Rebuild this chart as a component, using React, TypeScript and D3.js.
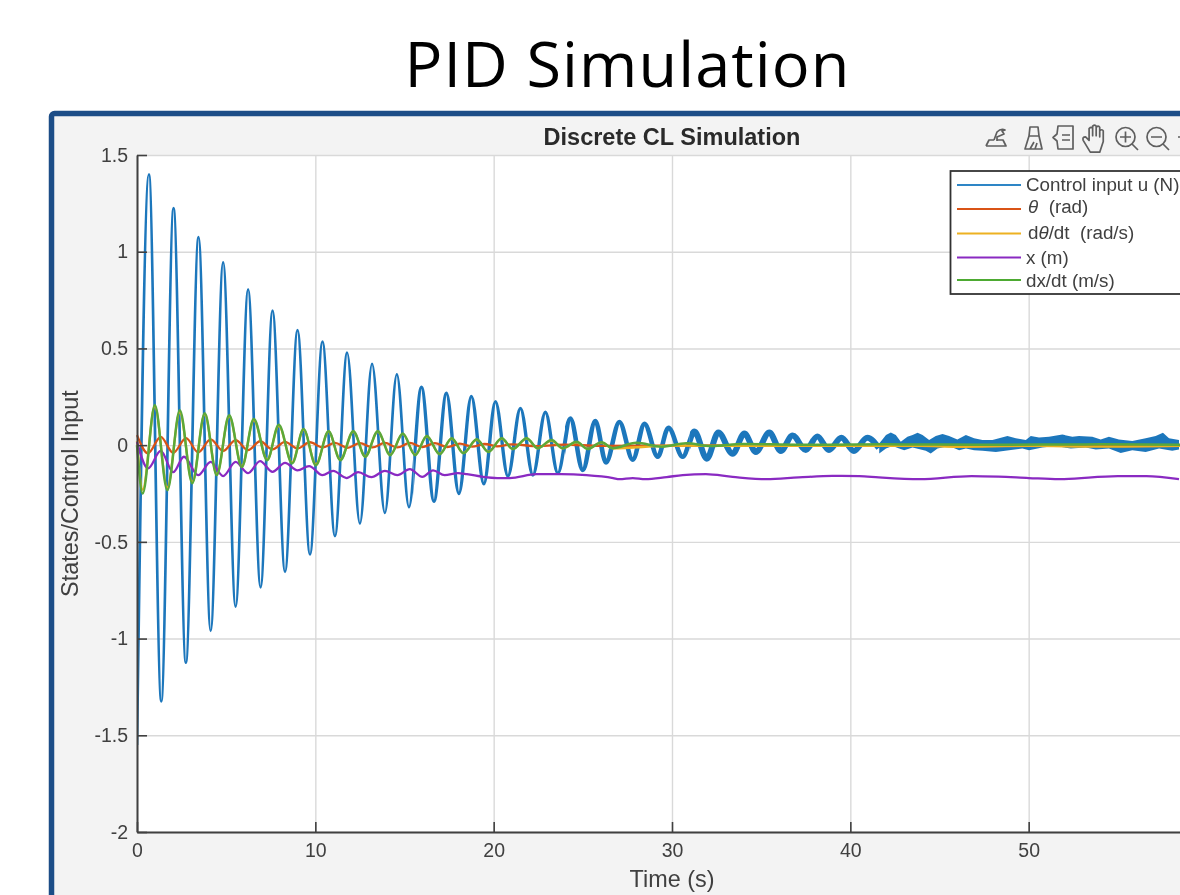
/** App.tsx */
import { useEffect, useRef } from 'react'
import * as d3 from 'd3'

const xTicks = [0, 10, 20, 30, 40, 50]
const yTicks = [-2, -1.5, -1, -0.5, 0, 0.5, 1, 1.5]

// Control input u, read peak by peak
const uTime = [
  0, 0.67, 1.36, 2.05, 2.74, 3.45, 4.13, 4.83, 5.53, 6.23, 6.93, 7.6, 8.3, 9.0, 9.7, 10.4, 11.1, 11.78, 12.5,
  13.18, 13.9, 14.57, 15.25, 15.95, 16.65, 17.35, 18.05, 18.75, 19.45, 20.1, 20.8, 21.5, 22.2, 22.9, 23.6, 24.3,
  25.0, 25.7, 26.3, 27.05, 27.8, 28.46, 29.2, 29.8, 30.6, 31.26, 31.95, 32.6, 33.4, 34.06, 34.7, 35.46, 36.1,
  36.76, 37.5, 38.15, 38.8, 39.5, 40.2, 40.95, 41.6,
]
const uValue = [
  -1.55, 1.4, -1.325, 1.225, -1.125, 1.075, -0.96, 0.945, -0.835, 0.805, -0.735, 0.695, -0.655, 0.595, -0.565, 0.535,
  -0.47, 0.478, -0.405, 0.42, -0.35, 0.366, -0.32, 0.3, -0.29, 0.268, -0.25, 0.252, -0.2, 0.225, -0.16, 0.19, -0.155,
  0.17, -0.145, 0.137, -0.128, 0.125, -0.09, 0.12, -0.075, 0.11, -0.06, 0.09, -0.06, 0.07, -0.07, 0.065, -0.045,
  0.06, -0.035, 0.065, -0.03, 0.05, -0.025, 0.045, -0.025, 0.038, -0.03, 0.038, -0.015,
]

// Late noisy part of u, upper and lower edge of the band
const bandTopTime = [
  41.62, 42.0, 42.27, 42.55, 42.83, 43.2, 43.49, 43.77, 44.05, 44.42, 44.79, 45.17, 45.54, 46.0, 46.48, 46.94,
  47.41, 47.97, 48.81, 49.28, 49.84, 50.12, 50.58, 51.14, 51.89, 52.45, 52.82, 53.57, 54.04, 54.5, 55.06, 55.81,
  56.56, 57.12, 57.53, 57.87, 58.43,
]
const bandTopValue = [
  0.009, 0.052, 0.066, 0.052, 0.017, 0.043, 0.052, 0.064, 0.052, 0.026, 0.047, 0.057, 0.047, 0.029, 0.052, 0.035,
  0.026, 0.026, 0.047, 0.035, 0.026, 0.047, 0.04, 0.043, 0.055, 0.043, 0.047, 0.043, 0.029, 0.043, 0.029, 0.022,
  0.035, 0.047, 0.064, 0.035, 0.026,
]
const bandBottomTime = [
  41.62, 42.0, 42.37, 42.74, 43.02, 43.49, 44.23, 44.51, 44.89, 45.54, 46.1, 46.48, 46.94, 47.41, 48.16, 48.9,
  49.65, 50.02, 50.77, 51.52, 52.36, 53.2, 53.76, 54.5, 55.16, 55.81, 56.56, 57.31, 58.05, 58.43,
]
const bandBottomValue = [
  -0.043, -0.017, -0.005, -0.017, -0.026, -0.012, -0.029, -0.043, -0.017, -0.005, -0.026, -0.017, -0.026, -0.029,
  -0.035, -0.026, -0.017, -0.026, -0.012, -0.005, -0.017, -0.012, -0.022, -0.017, -0.04, -0.026, -0.035, -0.017,
  -0.029, -0.022,
]

// theta (rad)
const thetaTime = [
  0, 0.62, 1.33, 2.03, 2.75, 3.43, 4.13, 4.83, 5.53, 6.23, 6.9, 7.6, 8.3, 9.0, 9.7, 10.4, 11.1, 11.8, 12.5, 13.2,
  13.9, 14.6, 15.3, 16.0, 16.7, 17.4, 18.1, 18.8, 19.5, 20.2, 21.0, 22.5, 24.0, 26.0, 30.0, 36.0, 44.0, 52.0, 58.5,
]
const thetaValue = [
  0.052, -0.042, 0.043, -0.04, 0.036, -0.037, 0.03, -0.03, 0.026, -0.026, 0.02, -0.022, 0.017, -0.017, 0.015,
  -0.012, 0.012, -0.014, 0.01, -0.012, 0.012, -0.012, 0.012, -0.01, 0.01, -0.01, 0.008, -0.008, 0.006, -0.006,
  0.004, -0.005, 0.003, -0.004, -0.002, -0.001, -0.002, -0.001, -0.001,
]

// d theta / dt (rad/s), mostly under dx/dt
const dThetaTime = [
  0, 0.32, 1.0, 1.7, 2.4, 3.1, 3.8, 4.47, 5.17, 5.88, 6.55, 7.3, 7.95, 8.7, 9.34, 10.03, 10.74, 11.4, 12.13, 12.8,
  13.5, 14.2, 14.9, 15.6, 16.25, 16.97, 17.65, 18.3, 19.05, 19.7, 20.45, 21.07, 21.85, 22.47, 23.25, 23.87, 24.65,
  25.27, 26.05, 26.67, 30.0, 36.0, 44.0, 46.0, 50.0, 54.0, 58.5,
]
const dThetaValue = [
  0.02, -0.23, 0.2, -0.22, 0.17, -0.19, 0.16, -0.15, 0.15, -0.11, 0.13, -0.075, 0.1, -0.09, 0.08, -0.1, 0.07,
  -0.075, 0.07, -0.058, 0.07, -0.05, 0.058, -0.05, 0.045, -0.045, 0.034, -0.04, 0.028, -0.034, 0.034, -0.02, 0.034,
  -0.016, 0.024, -0.016, 0.015, -0.018, 0.013, -0.016, -0.003, -0.004, -0.004, -0.009, -0.004, -0.008, -0.004,
]

// x (m)
const posTime = [
  0, 0.62, 1.33, 2.03, 2.63, 3.43, 4.13, 4.83, 5.53, 6.23, 6.9, 7.6, 8.3, 9.0, 9.65, 10.4, 11.0, 11.75, 12.4, 13.15,
  13.9, 14.6, 15.3, 16.0, 16.6, 17.25, 18.0, 18.5, 19.4, 20.2, 20.9, 22.4, 23.8, 25.2, 26.7, 27.05, 27.8, 28.5,
  29.7, 30.6, 31.9, 33.4, 35.3, 37.1, 39.0, 40.5, 41.6, 43.9, 46.8, 48.3, 50.0, 51.7, 55.0, 56.6, 58.43,
]
const posValue = [
  0.017, -0.12, -0.03, -0.14, -0.06, -0.155, -0.087, -0.16, -0.087, -0.145, -0.083, -0.138, -0.092, -0.13, -0.108,
  -0.155, -0.133, -0.17, -0.14, -0.165, -0.133, -0.155, -0.124, -0.164, -0.13, -0.155, -0.145, -0.15, -0.164, -0.17,
  -0.17, -0.15, -0.15, -0.155, -0.17, -0.176, -0.17, -0.176, -0.165, -0.155, -0.15, -0.164, -0.176, -0.167, -0.159,
  -0.16, -0.167, -0.176, -0.16, -0.163, -0.17, -0.176, -0.16, -0.16, -0.176,
]

// dx/dt (m/s)
const velTime = [
  0, 0.32, 1.0, 1.7, 2.4, 3.1, 3.8, 4.47, 5.17, 5.88, 6.55, 7.3, 7.95, 8.7, 9.34, 10.03, 10.74, 11.4, 12.13, 12.8,
  13.5, 14.2, 14.9, 15.6, 16.25, 16.97, 17.65, 18.3, 19.05, 19.7, 20.45, 21.07, 21.85, 22.47, 23.25, 23.87, 24.65,
  25.27, 26.05, 26.67, 28.0, 29.4, 30.8, 32.2, 34.0, 37.0, 42.0, 48.0, 54.0, 58.5,
]
const velValue = [
  0.0, -0.25, 0.207, -0.233, 0.18, -0.197, 0.165, -0.155, 0.155, -0.113, 0.135, -0.078, 0.105, -0.094, 0.083, -0.104,
  0.072, -0.078, 0.072, -0.06, 0.072, -0.052, 0.06, -0.052, 0.047, -0.047, 0.036, -0.042, 0.03, -0.036, 0.036, -0.02,
  0.036, -0.016, 0.026, -0.016, 0.017, -0.02, 0.015, -0.016, 0.012, -0.008, 0.01, -0.005, 0.006, 0.002, 0.004, 0.002,
  0.004, 0.002,
]

const legendItems = [
  { label: 'Control input u (N)', color: '#2f86c6' },
  { label: 'θ  (rad)', color: '#d95319' },
  { label: 'dθ/dt  (rad/s)', color: '#edb120' },
  { label: 'x (m)', color: '#8a2bc2' },
  { label: 'dx/dt (m/s)', color: '#4daa32' },
]

const toPoints = (time: number[], value: number[]): [number, number][] => time.map((t, i) => [t, value[i]])

const App = () => {
  const svgRef = useRef<SVGSVGElement>(null)

  useEffect(() => {
    const svgEl = d3.select(svgRef.current)
    svgEl.selectAll('*').remove()

    const left = 137
    const right = 1207
    const top = 155
    const bottom = 832
    const axisColor = '#404040'
    const textColor = '#404040'
    const chartFont = '"Liberation Sans", Arial, sans-serif'

    const xScale = d3.scaleLinear().domain([0, 60]).range([left, right])
    const yScale = d3.scaleLinear().domain([-2, 1.5]).range([bottom, top])

    const defs = svgEl.append('defs')
    defs
      .append('filter')
      .attr('id', 'soft')
      .attr('filterUnits', 'userSpaceOnUse')
      .attr('x', 0)
      .attr('y', 0)
      .attr('width', 1180)
      .attr('height', 895)
      .append('feGaussianBlur')
      .attr('stdDeviation', 0.6)

    // Line gets thicker as the noise takes over, so the same path is clipped to x ranges
    const thickness = [
      { id: 'u-a', from: 0, to: 15.5, width: 2.7 },
      { id: 'u-b', from: 15.5, to: 24, width: 3.4 },
      { id: 'u-c', from: 24, to: 31, width: 4.6 },
      { id: 'u-d', from: 31, to: 60, width: 6 },
    ]
    thickness.forEach((d) => {
      defs
        .append('clipPath')
        .attr('id', d.id)
        .append('rect')
        .attr('x', xScale(d.from))
        .attr('y', top)
        .attr('width', xScale(d.to) - xScale(d.from))
        .attr('height', bottom - top)
    })

    // Page title
    svgEl
      .append('text')
      .attr('x', 627.5)
      .attr('y', 87)
      .attr('text-anchor', 'middle')
      .style('font-family', '"Open Sans", sans-serif')
      .style('font-size', '63px')
      .style('letter-spacing', '1.1px')
      .style('fill', '#000')
      .text('PID Simulation')

    const root = svgEl.append('g').attr('filter', 'url(#soft)')

    // Slide frame and figure background
    root
      .append('rect')
      .attr('x', 51.5)
      .attr('y', 113.5)
      .attr('width', 1300)
      .attr('height', 1000)
      .attr('rx', 3)
      .attr('fill', '#f3f3f3')
      .attr('stroke', '#1f4e87')
      .attr('stroke-width', 5.5)

    root
      .append('rect')
      .attr('x', left)
      .attr('y', top)
      .attr('width', right - left)
      .attr('height', bottom - top)
      .attr('fill', '#fff')

    // Grid
    const xGrid = root
      .append('g')
      .attr('transform', `translate(0,${bottom})`)
      .call(d3.axisBottom(xScale).tickValues(xTicks).tickSize(-(bottom - top)).tickFormat(() => ''))
    xGrid.select('.domain').remove()
    xGrid.selectAll('line').attr('stroke', '#d9d9d9').attr('stroke-width', 1.4)
    const yGrid = root
      .append('g')
      .attr('transform', `translate(${left},0)`)
      .call(d3.axisLeft(yScale).tickValues(yTicks).tickSize(-(right - left)).tickFormat(() => ''))
    yGrid.select('.domain').remove()
    yGrid.selectAll('line').attr('stroke', '#d9d9d9').attr('stroke-width', 1.4)

    // Series
    const line = d3
      .line()
      .x((d) => xScale(d[0]))
      .y((d) => yScale(d[1]))
      .curve(d3.curveMonotoneX)

    const uPath = line(toPoints(uTime, uValue))
    thickness.forEach((d) => {
      root
        .append('g')
        .attr('clip-path', `url(#${d.id})`)
        .append('path')
        .attr('d', uPath)
        .attr('fill', 'none')
        .attr('stroke', '#1f77bc')
        .attr('stroke-width', d.width)
    })

    // Noisy band: upper edge out, lower edge back
    const bandOutline = [...toPoints(bandTopTime, bandTopValue), ...toPoints(bandBottomTime, bandBottomValue).reverse()]
    const bandLine = d3
      .line()
      .x((d) => xScale(d[0]))
      .y((d) => yScale(d[1]))
      .curve(d3.curveLinearClosed)
    root.append('path').attr('d', bandLine(bandOutline)).attr('fill', '#1f77bc').attr('stroke', 'none')

    const others = [
      { time: thetaTime, value: thetaValue, color: '#d95319', width: 2.3 },
      { time: dThetaTime, value: dThetaValue, color: '#edb120', width: 2.3 },
      { time: posTime, value: posValue, color: '#8a2bc2', width: 2.3 },
      { time: velTime, value: velValue, color: '#5aa83a', width: 2.5 },
    ]
    others.forEach((s) => {
      root
        .append('path')
        .attr('d', line(toPoints(s.time, s.value)))
        .attr('fill', 'none')
        .attr('stroke', s.color)
        .attr('stroke-width', s.width)
    })

    // Axes, ticks point inward
    const xAxis = root
      .append('g')
      .attr('transform', `translate(0,${bottom})`)
      .call(d3.axisBottom(xScale).tickValues(xTicks).tickSize(-10).tickSizeOuter(0).tickPadding(11).tickFormat(String))
    const yAxis = root
      .append('g')
      .attr('transform', `translate(${left},0)`)
      .call(d3.axisLeft(yScale).tickValues(yTicks).tickSize(-10).tickSizeOuter(0).tickPadding(9).tickFormat(String))
    ;[xAxis, yAxis].forEach((axis) => {
      axis.select('.domain').attr('stroke', axisColor).attr('stroke-width', 2)
      axis.selectAll('line').attr('stroke', axisColor).attr('stroke-width', 1.6)
      axis
        .selectAll('text')
        .style('font-family', chartFont)
        .style('font-size', '19.5px')
        .style('fill', textColor)
    })

    // Titles
    root
      .append('text')
      .attr('x', 672)
      .attr('y', 145)
      .attr('text-anchor', 'middle')
      .style('font-family', chartFont)
      .style('font-weight', '700')
      .style('font-size', '23.5px')
      .style('fill', '#2b2b2b')
      .text('Discrete CL Simulation')
    root
      .append('text')
      .attr('x', 672)
      .attr('y', 887)
      .attr('text-anchor', 'middle')
      .style('font-family', chartFont)
      .style('font-size', '23.4px')
      .style('fill', textColor)
      .text('Time (s)')
    root
      .append('text')
      .attr('transform', 'translate(78,493.5) rotate(-90)')
      .attr('text-anchor', 'middle')
      .style('font-family', chartFont)
      .style('font-size', '23.4px')
      .style('fill', textColor)
      .text('States/Control Input')

    // Legend
    root
      .append('rect')
      .attr('x', 950.5)
      .attr('y', 171)
      .attr('width', 300)
      .attr('height', 123)
      .attr('fill', '#fff')
      .attr('stroke', '#333')
      .attr('stroke-width', 1.8)
    const legendY = [185, 209, 233.5, 257.5, 280]
    const legendTextY = [191, 213, 239, 264, 287]
    const legendTextX = [1026, 1028, 1028, 1026, 1026]
    legendItems.forEach((d, i) => {
      root
        .append('line')
        .attr('x1', 957)
        .attr('x2', 1021)
        .attr('y1', legendY[i])
        .attr('y2', legendY[i])
        .attr('stroke', d.color)
        .attr('stroke-width', 2)
      const text = root
        .append('text')
        .attr('x', legendTextX[i])
        .attr('y', legendTextY[i])
        .style('font-family', chartFont)
        .style('font-size', '18.8px')
        .style('white-space', 'pre')
        .style('fill', textColor)
      // theta is set in italics, the rest upright
      d.label.split('θ').forEach((part, j) => {
        if (j > 0) text.append('tspan').style('font-style', 'italic').text('θ')
        text.append('tspan').text(part)
      })
    })

    // Axes toolbar
    const icons = root
      .append('g')
      .attr('fill', 'none')
      .attr('stroke', '#5f5f5f')
      .attr('stroke-width', 1.7)
      .attr('stroke-linejoin', 'round')
    // brush
    icons.append('path').attr('d', 'M986 146 h20 l-3 -6 h-6 M986 146 l3 -6 h5 M994 140 l3 -8 q4 -4 8 -2 l-3 1 l2 3 l-7 3 v4')
    // eraser brush
    icons.append('path').attr('d', 'M1030 127 h8 l1 9 h-10 z M1029 136 h10 l3 13 h-17 z M1030 149 l4 -7 M1035 149 l2 -6')
    // legend toggle
    icons.append('path').attr('d', 'M1058 126 h15 v23 h-15 l-1 -8 l-4 -3.5 l4 -3.5 z M1062 135 h8 M1062 140 h8')
    // hand
    icons
      .append('path')
      .attr('transform', 'translate(1095,138) scale(1.18) translate(-1095,-138)')
      .attr('stroke-width', 1.45)
      .attr(
        'd',
        'M1091 150 l-6 -10 q-1 -3 2 -3 l3 3 v-10 q2 -2 3 0 v6 v-8 q2 -2 3 0 v8 v-7 q2 -2 3 0 v8 v-5 q2 -2 3 0 v9 l-3 9 z'
      )
    // zoom in
    icons.append('circle').attr('cx', 1125.5).attr('cy', 137).attr('r', 9.5)
    icons.append('path').attr('d', 'M1132 144 l6 6 M1120 137 h11 M1125.5 131.5 v11')
    // zoom out
    icons.append('circle').attr('cx', 1156.5).attr('cy', 137).attr('r', 9.5)
    icons.append('path').attr('d', 'M1163 144 l6 6 M1151 137 h11 M1178 137 h4')
  }, [])

  return (
    <svg
      ref={svgRef}
      width={1180}
      height={895}
      style={{ position: 'absolute', left: 0, top: 0, display: 'block', background: '#fff' }}
    />
  )
}

export default App
